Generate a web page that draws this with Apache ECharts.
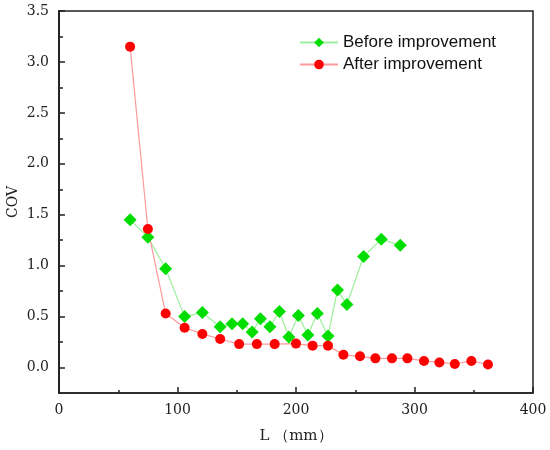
<!DOCTYPE html>
<html>
<head>
<meta charset="utf-8">
<script src="https://cdn.jsdelivr.net/npm/echarts@6/dist/echarts.min.js"></script>
<style>
  html, body { margin: 0; padding: 0; background: #fff; }
  #chart { width: 550px; height: 450px; }
</style>
</head>
<body>
<div id="chart"></div>
<script>
// values
const beforeL = [60, 75, 90, 106, 121, 136, 146, 155, 163, 170, 178, 186, 194, 202, 210, 218, 227, 235, 243, 257, 272, 288];
const beforeCov = [1.45, 1.28, 0.97, 0.50, 0.54, 0.40, 0.43, 0.43, 0.35, 0.48, 0.40, 0.55, 0.30, 0.51, 0.32, 0.53, 0.31, 0.76, 0.62, 1.09, 1.26, 1.20];
const afterL = [60, 75, 90, 106, 121, 136, 152, 167, 182, 200, 214, 227, 240, 254, 267, 281, 294, 308, 321, 334, 348, 362];
const afterCov = [3.15, 1.36, 0.53, 0.39, 0.33, 0.28, 0.23, 0.23, 0.23, 0.235, 0.215, 0.215, 0.125, 0.11, 0.09, 0.09, 0.09, 0.065, 0.05, 0.035, 0.065, 0.03];
const yMajor = [0, 0.5, 1, 1.5, 2, 2.5, 3, 3.5];
const yMinor = [0.25, 0.75, 1.25, 1.75, 2.25, 2.75, 3.25];

const serif = '"DejaVu Serif", "Liberation Serif", serif';
const ink = '#222';

const chart = echarts.init(document.getElementById('chart'));

const yBase = {
  type: 'value',
  min: -0.25,
  max: 3.5,
  splitLine: { show: false }
};

chart.setOption({
  animation: false,
  grid: {
    left: 59, right: 17, top: 11, bottom: 57,
    outerBoundsMode: 'none',
    containLabel: false,
    show: true, borderColor: ink, borderWidth: 1.5
  },
  legend: {
    orient: 'vertical',
    left: 294,
    top: 29,
    itemWidth: 38,
    itemHeight: 12,
    itemGap: 5,
    textStyle: { fontFamily: '"Liberation Sans", Arial, sans-serif', fontSize: 17, color: '#111' },
    data: ['Before improvement', 'After improvement']
  },
  xAxis: {
    type: 'value',
    min: 0,
    max: 400,
    interval: 100,
    name: 'L （mm）',
    nameLocation: 'middle',
    nameGap: 36,
    nameTextStyle: { fontFamily: serif, fontSize: 15, color: ink },
    axisLine: { onZero: false, lineStyle: { color: ink, width: 1.5 } },
    axisTick: { inside: true, length: 6, lineStyle: { color: ink, width: 1.5 } },
    minorTick: { show: true, splitNumber: 2, length: 3, lineStyle: { color: ink, width: 1.5 } },
    axisLabel: { margin: 10, fontFamily: serif, fontSize: 14, color: ink },
    splitLine: { show: false }
  },
  yAxis: [
    Object.assign({}, yBase, {
      name: 'COV',
      nameLocation: 'middle',
      nameGap: 39,
      nameMoveOverlap: false,
      nameTextStyle: { fontFamily: serif, fontSize: 14, color: ink },
      axisLine: { show: true, onZero: false, lineStyle: { color: ink, width: 1.5 } },
      axisTick: { inside: true, length: 6, customValues: yMajor, lineStyle: { color: ink, width: 1.5 } },
      axisLabel: {
        margin: 10, fontFamily: serif, fontSize: 14, color: ink,
        customValues: yMajor,
        formatter: v => v.toFixed(1)
      }
    }),
    Object.assign({}, yBase, {
      position: 'left',
      offset: 0,
      axisLine: { show: true, onZero: false, lineStyle: { color: ink, width: 1.5 } },
      axisTick: { show: true, inside: true, length: 4, customValues: yMinor, lineStyle: { color: ink, width: 1.5 } },
      axisLabel: { show: false, customValues: yMinor }
    })
  ],
  series: [
    {
      name: 'Before improvement',
      type: 'line',
      data: beforeL.map((x, i) => [x, beforeCov[i]]),
      symbol: 'diamond',
      symbolSize: 13,
      itemStyle: { color: '#00dd00' },
      lineStyle: { color: '#9cef9c', width: 1.2 }
    },
    {
      name: 'After improvement',
      type: 'line',
      data: afterL.map((x, i) => [x, afterCov[i]]),
      symbol: 'circle',
      symbolSize: 10,
      itemStyle: { color: '#ff0000' },
      lineStyle: { color: '#ff9a9a', width: 1.2 }
    }
  ]
});
</script>
</body>
</html>
